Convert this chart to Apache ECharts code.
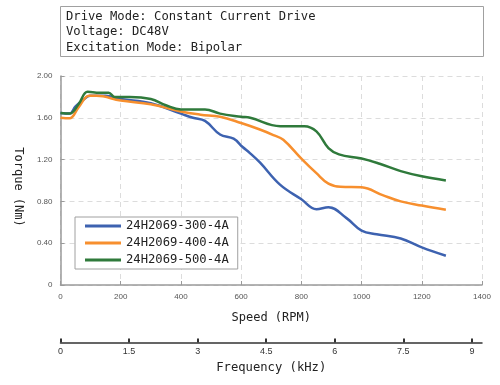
<!DOCTYPE html>
<html>
<head>
<meta charset="utf-8">
<script src="https://cdn.jsdelivr.net/npm/echarts@6/dist/echarts.min.js"></script>
<style>html,body{margin:0;padding:0;background:#fff}#c{width:500px;height:385px}</style>
</head>
<body>
<div id="c"></div>
<script>
var seriesNames = ['24H2069-300-4A', '24H2069-400-4A', '24H2069-500-4A'];
var speed300 = [0, 30, 50, 75, 98, 150, 200, 300, 400, 440, 480, 530, 575, 605, 630, 663, 729, 800, 850, 890, 950, 1000, 1050, 1130, 1200, 1280];
var torque300 = [1.645, 1.64, 1.71, 1.77, 1.81, 1.81, 1.78, 1.74, 1.64, 1.60, 1.57, 1.44, 1.40, 1.32, 1.26, 1.17, 0.96, 0.82, 0.725, 0.745, 0.64, 0.52, 0.485, 0.445, 0.36, 0.28];
var speed400 = [0, 30, 60, 95, 120, 200, 300, 400, 465, 530, 600, 660, 707, 740, 800, 850, 890, 930, 1000, 1070, 1130, 1200, 1280];
var torque400 = [1.60, 1.595, 1.70, 1.81, 1.81, 1.765, 1.73, 1.66, 1.63, 1.61, 1.55, 1.49, 1.435, 1.39, 1.21, 1.07, 0.97, 0.94, 0.935, 0.86, 0.80, 0.76, 0.72];
var speed500 = [0, 30, 60, 90, 130, 160, 180, 230, 300, 350, 400, 480, 530, 600, 630, 730, 810, 850, 890, 925, 1000, 1060, 1130, 1200, 1280];
var torque500 = [1.645, 1.64, 1.73, 1.85, 1.84, 1.84, 1.80, 1.80, 1.78, 1.72, 1.68, 1.68, 1.64, 1.61, 1.60, 1.52, 1.52, 1.47, 1.31, 1.25, 1.21, 1.16, 1.09, 1.04, 1.00];
var torqueTicks = [0, 0.4, 0.8, 1.2, 1.6, 2.0];
var freqTicks = [0, 1.5, 3, 4.5, 6, 7.5, 9];
var infoLines = ['Drive Mode: Constant Current Drive', 'Voltage: DC48V', 'Excitation Mode: Bipolar'];
var colors = ['#3d62b0', '#f78f2e', '#2f7a3b'];

function pairs(xs, ys) { return xs.map(function (x, i) { return [x, ys[i]]; }); }

var mono = 'DejaVu Sans Mono';
var chart = echarts.init(document.getElementById('c'), null, { renderer: 'canvas' });
chart.setOption({
  animation: false,
  color: colors,
  grid: { left: 60.5, right: 18, top: 76, bottom: 100 },
  graphic: [
    { type: 'rect', shape: { x: 60.5, y: 6.5, width: 423, height: 50 }, style: { fill: '#fff', stroke: '#a0a0a0', lineWidth: 1 } },
    { type: 'text', x: 66, y: 9, style: { text: infoLines.join('\n'), font: '12.2px "' + mono + '"', lineHeight: 15.5, fill: '#222' } }
  ],
  legend: {
    orient: 'vertical', left: 75, top: 217,
    borderColor: '#a0a0a0', borderWidth: 1, backgroundColor: '#fff',
    padding: [2, 9, 2, 10], itemGap: 3, itemWidth: 36, itemHeight: 3, icon: 'rect',
    textStyle: { fontFamily: mono, fontSize: 12.2, color: '#222', lineHeight: 14 },
    data: seriesNames
  },
  xAxis: [
    {
      type: 'value', min: 0, max: 1400, interval: 200,
      name: 'Speed (RPM)', nameLocation: 'middle', nameGap: 27,
      nameTextStyle: { fontFamily: mono, fontSize: 12, color: '#222' },
      axisLine: { lineStyle: { color: '#9a9a9a', width: 1.5 } },
      axisTick: { show: true, inside: true, length: 4, lineStyle: { color: '#9a9a9a' } },
      axisLabel: { fontSize: 8, color: '#555', margin: 8, formatter: function (v) { return String(v); } },
      splitLine: { show: true, lineStyle: { color: '#dcdcdc', type: [5, 4], width: 1 } }
    },
    {
      type: 'value', position: 'bottom', offset: 57.5, min: 0, max: 9.22,
      name: 'Frequency (kHz)', nameLocation: 'middle', nameGap: 17,
      nameTextStyle: { fontFamily: mono, fontSize: 12.2, color: '#222' },
      axisLine: { show: true, onZero: false, lineStyle: { color: '#333', width: 1.5 } },
      axisTick: { show: true, inside: true, length: 4, customValues: freqTicks, lineStyle: { color: '#333', width: 2 } },
      axisLabel: { fontSize: 9, color: '#333', margin: 5, customValues: freqTicks, formatter: function (v) { return String(v); } },
      splitLine: { show: false }
    }
  ],
  yAxis: {
    type: 'value', min: 0, max: 2, interval: 0.4,
    name: 'Torque (Nm)', nameLocation: 'middle', nameGap: 36, nameRotate: -90,
    nameTextStyle: { fontFamily: mono, fontSize: 12, color: '#222', padding: [0, 0, 0, 13] },
    axisLine: { show: true, lineStyle: { color: '#9a9a9a', width: 1.5 } },
    axisTick: { show: true, inside: true, length: 4, lineStyle: { color: '#9a9a9a' } },
    axisLabel: { fontSize: 8, color: '#555', margin: 8, formatter: function (v) { return v === 0 ? '0' : v.toFixed(2); } },
    splitLine: { show: true, lineStyle: { color: '#dcdcdc', type: [5, 4], width: 1 } }
  },
  series: [
    { name: seriesNames[0], type: 'line', data: pairs(speed300, torque300), smooth: 0.4, showSymbol: false, symbol: 'none', lineStyle: { width: 2.5 } },
    { name: seriesNames[1], type: 'line', data: pairs(speed400, torque400), smooth: 0.4, showSymbol: false, symbol: 'none', lineStyle: { width: 2.5 } },
    { name: seriesNames[2], type: 'line', data: pairs(speed500, torque500), smooth: 0.4, showSymbol: false, symbol: 'none', lineStyle: { width: 2.5 } }
  ]
});
</script>
</body>
</html>
